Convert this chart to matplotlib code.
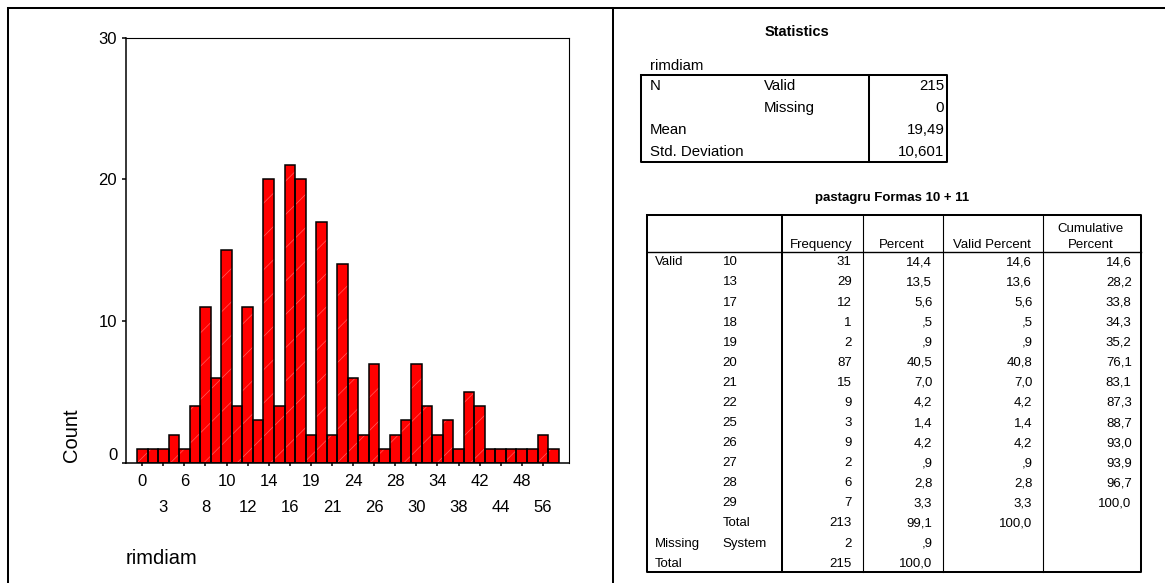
import matplotlib
matplotlib.use('Agg')
import matplotlib.pyplot as plt
import numpy as np

plt.rcParams['font.family'] = ['Liberation Sans', 'DejaVu Sans']
plt.rcParams['hatch.linewidth'] = 0.5

# ---------------- data ----------------
# SPSS bar chart of rimdiam (counts per category, left to right)
counts = [1, 1, 1, 2, 1, 4, 11, 6, 15, 4, 11, 3, 20, 4, 21, 20, 2, 17, 2, 14,
          6, 2, 7, 1, 2, 3, 7, 4, 2, 3, 1, 5, 4, 1, 1, 1, 1, 1, 2, 1]
tick_labels_row1 = ['0', '6', '10', '14', '19', '24', '28', '34', '42', '48']
tick_labels_row2 = ['3', '8', '12', '16', '21', '26', '30', '38', '44', '56']
y_ticks = [0, 10, 20, 30]

# Statistics table
stat_var = 'rimdiam'
stat_labels = ['N', '', 'Mean', 'Std. Deviation']
stat_sublabels = ['Valid', 'Missing', '', '']
stat_values = ['215', '0', '19,49', '10,601']

# Frequency table
freq_title = 'pastagru Formas 10 + 11'
freq_headers = ['Frequency', 'Percent', 'Valid Percent', 'Cumulative\nPercent']
freq_group = ['Valid'] + [''] * 13 + ['Missing', 'Total']
freq_cat = ['10', '13', '17', '18', '19', '20', '21', '22', '25', '26', '27',
            '28', '29', 'Total', 'System', '']
frequency = [31, 29, 12, 1, 2, 87, 15, 9, 3, 9, 2, 6, 7, 213, 2, 215]
percent = [14.4, 13.5, 5.6, 0.5, 0.9, 40.5, 7.0, 4.2, 1.4, 4.2, 0.9, 2.8, 3.3,
           99.1, 0.9, 100.0]
valid_percent = [14.6, 13.6, 5.6, 0.5, 0.9, 40.8, 7.0, 4.2, 1.4, 4.2, 0.9, 2.8,
                 3.3, 100.0, None, None]
cumulative_percent = [14.6, 28.2, 33.8, 34.3, 35.2, 76.1, 83.1, 87.3, 88.7,
                      93.0, 93.9, 96.7, 100.0, None, None, None]


def fmt(v):
    if v is None:
        return ''
    s = f'{v:.1f}'.replace('.', ',')
    if s.startswith('0,'):
        s = s[1:]
    return s


# ---------------- figure ----------------
W, H = 1165, 583
fig = plt.figure(figsize=(W / 100, H / 100), dpi=100)

ax = fig.add_axes([126 / W, 1 - 463 / H, (569 - 126) / W, (463 - 37.5) / H])
x = np.arange(len(counts))
ax.bar(x, counts, width=1.0, color='#ff0000', edgecolor='#ff5c5c', hatch='/',
       linewidth=0)
ax.bar(x, counts, width=1.0, fill=False, edgecolor='black', linewidth=1.1)
ax.set_xlim(-1.54, 40.48)
ax.set_ylim(0, 30)

ax.set_xticks(x[0::4], labels=tick_labels_row1)
ax.set_xticks(x[2::4], labels=tick_labels_row2, minor=True)
ax.tick_params(axis='x', which='both', direction='out', length=2.2, width=1.1,
               labelsize=12)
ax.tick_params(axis='x', which='major', pad=5.6)
ax.tick_params(axis='x', which='minor', pad=24.8)
ax.set_yticks(y_ticks, labels=[''] + [str(t) for t in y_ticks[1:]])
ax.tick_params(axis='y', length=2.9, width=1.1, pad=3.6, labelsize=12)
ax.annotate(str(y_ticks[0]), xy=(0, y_ticks[0]), xycoords=('axes fraction', 'data'),
            xytext=(-6.0, 5.4), textcoords='offset points', ha='right',
            va='center', fontsize=12)
for s in ['left', 'bottom']:
    ax.spines[s].set_linewidth(1.1)
for s in ['top', 'right']:
    ax.spines[s].set_linewidth(0.8)

# overlay in pixel coordinates for frames, labels and tables
ov = fig.add_axes([0, 0, 1, 1])
ov.set_xlim(0, W)
ov.set_ylim(H, 0)
ov.axis('off')

LW = 1.45
ov.plot([8, W], [7.5, 7.5], color='black', lw=LW)
ov.plot([8, 8], [7.5, H], color='black', lw=LW)
ov.plot([613.3, 613.3], [7.5, H], color='black', lw=LW)

ov.text(71.7, 435, 'Count', rotation=90, ha='center', va='center', fontsize=14.5)
ov.text(126, 558, 'rimdiam', ha='left', va='center', fontsize=14.5)

# ---- Statistics table ----
ov.text(796.7, 36.2, 'Statistics', ha='center', va='baseline', fontsize=10.5,
        fontweight='bold')
ov.text(650, 70.4, stat_var, ha='left', va='baseline', fontsize=10.8)
t1l, t1r, t1d, t1t, t1b = 641, 947, 869, 75, 162
ov.plot([t1l, t1r, t1r, t1l, t1l], [t1t, t1t, t1b, t1b, t1t], color='black', lw=LW)
ov.plot([t1d, t1d], [t1t, t1b], color='black', lw=LW)
row_y1 = [85, 106.7, 128.3, 150.7]
for i in range(len(stat_labels)):
    yb = row_y1[i] + 5.4
    ov.text(650, yb, stat_labels[i], ha='left', va='baseline', fontsize=10.8)
    ov.text(764, yb, stat_sublabels[i], ha='left', va='baseline', fontsize=10.8)
    ov.text(944.3, yb, stat_values[i], ha='right', va='baseline', fontsize=10.8)

# ---- Frequency table ----
ov.text(892, 200.5, freq_title, ha='center', va='baseline', fontsize=9.5,
        fontweight='bold')
cols = [647.3, 781.7, 863.3, 943.3, 1043.3, 1140.7]
t2t, t2h, t2b = 215, 252.3, 571.7
ov.plot([cols[0], cols[-1], cols[-1], cols[0], cols[0]],
        [t2t, t2t, t2b, t2b, t2t], color='black', lw=LW)
ov.plot([cols[1], cols[1]], [t2t, t2b], color='black', lw=LW)
for cx in cols[2:5]:
    ov.plot([cx, cx], [t2t, t2b], color='black', lw=0.8)
ov.plot([cols[0], cols[-1]], [t2h, t2h], color='black', lw=1.0)

FS2 = 9.5
for j, hdr in enumerate(freq_headers):
    cx = (cols[j + 1] + cols[j + 2]) / 2 - 1.5
    lines = hdr.split('\n')
    for k, ln in enumerate(reversed(lines)):
        ov.text(cx, 248 - 16 * k, ln, ha='center', va='baseline', fontsize=FS2)

for i in range(len(freq_cat)):
    yb = 260.7 + 20.08 * i + 4.7
    ov.text(655, yb, freq_group[i], ha='left', va='baseline', fontsize=FS2)
    ov.text(722.7, yb, freq_cat[i], ha='left', va='baseline', fontsize=FS2)
    ov.text(851.7, yb, str(frequency[i]), ha='right', va='baseline', fontsize=FS2)
    ov.text(932.3, yb, fmt(percent[i]), ha='right', va='baseline', fontsize=FS2)
    ov.text(1032.3, yb, fmt(valid_percent[i]), ha='right', va='baseline', fontsize=FS2)
    ov.text(1131.7, yb, fmt(cumulative_percent[i]), ha='right', va='baseline',
            fontsize=FS2)

fig.savefig('out.png', dpi=100)
